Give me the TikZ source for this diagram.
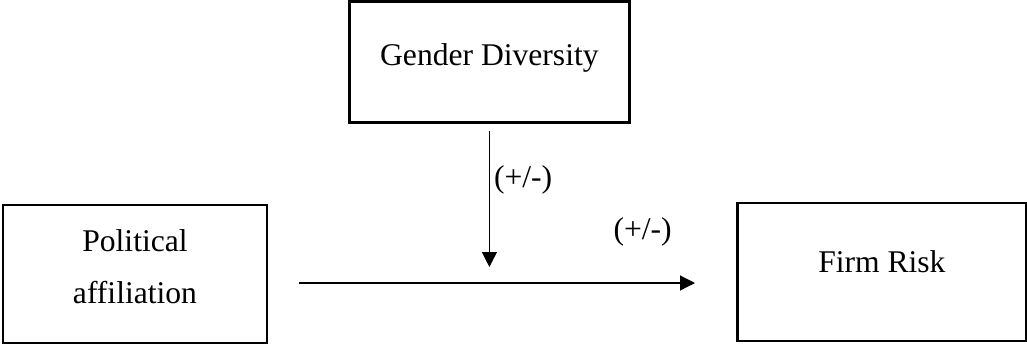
\documentclass[tikz,border=0pt]{standalone}
\usepackage{fontspec}
\setmainfont{Liberation Serif}
\usetikzlibrary{positioning, arrows.meta}

\begin{document}
\begin{tikzpicture}[
  >={Triangle[length=7.5pt,width=7.5pt]},
  font=\fontsize{15.8}{26}\selectfont,
  var/.style={
    rectangle, draw, line width=1.2pt, minimum height=69pt,
    align=center, text height=6pt, text depth=6pt
  },
  link/.style={->, line width=0.6pt},
  sign/.style={inner sep=2pt}
]

\useasboundingbox (-67.5pt,-35.5pt) rectangle (446pt,137pt);

\node[var, minimum width=132pt, text height=33pt, text depth=4pt] (pol) at (0,0)
  {Political\\affiliation};
\node[var, minimum width=140pt, minimum height=60.5pt, text depth=3pt,
  above right=40pt and 40pt of pol] (gender) {Gender Diversity};
\node[var, minimum width=144.5pt, right=234pt of pol, yshift=1pt] (risk) {Firm Risk};

\coordinate (join) at ([yshift=-4.5pt]pol.east);

\draw[link, shorten <=15.4pt, shorten >=20.6pt] (join) -- (join -| risk.west)
  node[pos=0.8, yshift=25.5pt] (signb) {(+/-)};
\draw[link, shorten <=3.5pt, shorten >=8pt] (gender.south) -- (gender.south |- join)
  node[right, pos=0.354, sign] (signa) {(+/-)};

\end{tikzpicture}
\end{document}
